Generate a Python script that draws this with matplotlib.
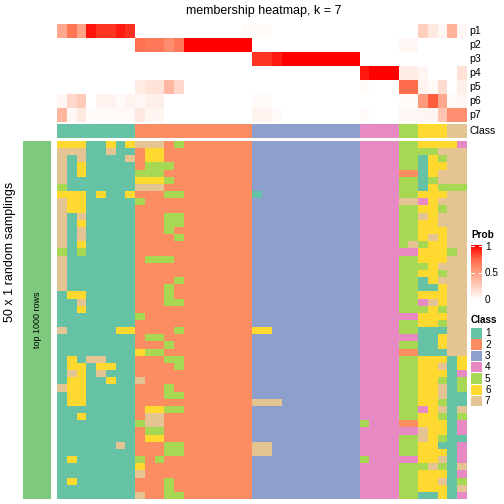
import numpy as np
import matplotlib
matplotlib.use("Agg")
import matplotlib.pyplot as plt
from matplotlib.colors import LinearSegmentedColormap, to_rgb

plt.rcParams['font.family'] = ['Liberation Sans', 'DejaVu Sans']

# class colours (1..7)
class_colors = ['#66C2A5', '#FC8D62', '#8DA0CB', '#E78AC3', '#A6D854', '#FFD92F', '#E5C494']
class_labels = ['1', '2', '3', '4', '5', '6', '7']

# predicted class of each column (42 samples)
column_class = '11111111' + '222222222222' + '33333333333' + '4444' + '55' + '666' + '77'

# membership probabilities p1..p7 per column
p1 = [.45, .68, .48, .95, .87, .87, .93, .88, 0, 0, 0, 0, 0, 0, 0, 0, 0, 0, 0, .02,
      .02, .02, 0, 0, 0, 0, 0, 0, 0, 0, 0, 0, 0, 0, 0, 0, 0, .25, .12, .05, .4, .04]
p2 = [0, 0, 0, 0, 0, 0, 0, 0, .7, .67, .67, .58, .67, 1, 1, 1, 1, 1, 1, 1,
      0, 0, 0, 0, 0, 0, 0, 0, 0, 0, 0, 0, 0, 0, 0, .04, .04, 0, 0, 0, 0, 0]
p3 = [0, 0, 0, 0, 0, 0, 0, 0, 0, 0, 0, 0, 0, 0, 0, 0, 0, 0, 0, 0,
      .87, .87, .93, 1, 1, 1, 1, 1, 1, 1, 1, 0, 0, 0, 0, 0, 0, 0, 0, 0, 0, 0]
p4 = [0, 0, 0, 0, 0, 0, 0, 0, 0, 0, 0, 0, 0, 0, 0, 0, 0, 0, 0, 0,
      0, 0, 0, 0, 0, 0, 0, 0, 0, 0, 0, .94, 1, 1, 1, .1, .1, .05, 0, 0, 0, .15]
p5 = [0, 0, 0, 0, 0, 0, 0, 0, .1, .15, .15, .37, .2, 0, 0, 0, 0, 0, 0, 0,
      0, 0, 0, 0, 0, 0, 0, 0, 0, 0, 0, .02, 0, 0, 0, .72, .72, .06, .03, .18, 0, .08]
p6 = [.05, .2, .27, 0, .06, .06, .03, .06, .04, .08, .08, 0, 0, 0, 0, 0, 0, 0, 0, 0,
      .03, .03, 0, 0, 0, 0, 0, 0, 0, 0, 0, 0, 0, 0, 0, .02, .02, .52, .78, .45, .03, .05]
p7 = [.38, .04, .12, .02, .03, .03, .03, .03, .12, .05, .05, 0, 0, 0, 0, 0, 0, 0, 0, 0,
      .06, .06, .03, 0, 0, 0, 0, 0, 0, 0, 0, .03, 0, 0, 0, .04, .04, .05, .05, .3, .57, .57]
prob_labels = ['p1', 'p2', 'p3', 'p4', 'p5', 'p6', 'p7']

# class assigned in each of the 50 random samplings (rows) for each column
samplings = [
    '66611616' + '777252222222' + '33333333333' + '4444' + '55' + '666' + '64',
    '77711711' + '266222222222' + '33333333333' + '4444' + '55' + '557' + '77',
    '71711117' + '266222222222' + '33333333333' + '4444' + '55' + '165' + '77',
    '71611111' + '255522222222' + '33333333333' + '4444' + '55' + '166' + '77',
    '71611111' + '555222222222' + '33333333333' + '4444' + '22' + '167' + '77',
    '71111111' + '666522222222' + '33333333333' + '4444' + '55' + '157' + '77',
    '51111111' + '777222222222' + '33333333333' + '4444' + '55' + '165' + '55',
    '66616116' + '222552222222' + '13333333333' + '4444' + '55' + '666' + '77',
    '76611111' + '522222222222' + '33333333333' + '4444' + '77' + '467' + '77',
    '76611111' + '222222222222' + '33333333333' + '4444' + '55' + '665' + '77',
    '71711111' + '222552222222' + '33333333333' + '4444' + '55' + '767' + '77',
    '71611111' + '222552222222' + '33333333333' + '4444' + '55' + '667' + '77',
    '71711111' + '222522222222' + '33333333333' + '4444' + '55' + '666' + '77',
    '71711111' + '222252222222' + '33333333333' + '4444' + '55' + '676' + '77',
    '71611111' + '222222222222' + '33333333333' + '4444' + '57' + '566' + '77',
    '51511111' + '222222222222' + '33333333333' + '4444' + '44' + '666' + '57',
    '71111111' + '255522222222' + '33333333333' + '4444' + '55' + '666' + '77',
    '71111111' + '222222222222' + '33333333333' + '4444' + '55' + '567' + '77',
    '71111111' + '222222222222' + '33333333333' + '4444' + '55' + '665' + '77',
    '71111111' + '222252222222' + '33333333333' + '4444' + '55' + '167' + '77',
    '71111111' + '222522222222' + '33333333333' + '4444' + '55' + '116' + '77',
    '16611111' + '222522222222' + '33333333333' + '4444' + '55' + '666' + '77',
    '11711111' + '222552222222' + '33333333333' + '4444' + '55' + '476' + '77',
    '11611111' + '222222222222' + '33333333333' + '4444' + '55' + '565' + '77',
    '11111111' + '522222222222' + '33333333333' + '4444' + '44' + '666' + '77',
    '11111111' + '222222222222' + '33333333333' + '4444' + '55' + '665' + '77',
    '71111166' + '222252222222' + '66333333333' + '4444' + '55' + '111' + '77',
    '11111111' + '255222222222' + '33333333333' + '4444' + '44' + '116' + '77',
    '11111111' + '222522222222' + '33333333333' + '4444' + '55' + '116' + '77',
    '11111111' + '655222222222' + '33333333333' + '4444' + '22' + '111' + '77',
    '16177111' + '222552222222' + '33333333333' + '4444' + '55' + '666' + '16',
    '16616611' + '222252222222' + '33333333333' + '4444' + '55' + '667' + '16',
    '17617111' + '222222222222' + '33333333333' + '4444' + '55' + '666' + '14',
    '16611611' + '722222222222' + '33333333333' + '4444' + '55' + '665' + '15',
    '76611111' + '222522222222' + '33333333333' + '4444' + '55' + '667' + '15',
    '16611111' + '222552222222' + '33333333333' + '4444' + '55' + '667' + '11',
    '16611111' + '222222222222' + '77733333333' + '4444' + '55' + '665' + '11',
    '11111111' + '266552222222' + '33333333333' + '4444' + '55' + '467' + '17',
    '11611111' + '277222222222' + '33333333333' + '4444' + '55' + '665' + '15',
    '11111111' + '577222222222' + '33333333333' + '5444' + '22' + '666' + '14',
    '11111111' + '255222222222' + '33333333333' + '4444' + '44' + '766' + '14',
    '11111111' + '266222222222' + '33333333333' + '4444' + '55' + '765' + '11',
    '11111171' + '222552222222' + '77333333333' + '4444' + '55' + '661' + '14',
    '11111111' + '222552222222' + '77333333333' + '4444' + '55' + '666' + '14',
    '16111111' + '525222222222' + '33333333333' + '5444' + '44' + '667' + '14',
    '11111111' + '622222222222' + '33333333333' + '4444' + '55' + '575' + '17',
    '11111111' + '722222222222' + '33333333333' + '4444' + '55' + '666' + '14',
    '16111111' + '222522222222' + '33333333333' + '4444' + '55' + '667' + '15',
    '11111111' + '222522222222' + '33333333333' + '4444' + '55' + '666' + '17',
    '11111111' + '722552222222' + '33333333333' + '4444' + '55' + '116' + '14',
]

prob_cmap = LinearSegmentedColormap.from_list(
    'prob', [(0, '#FFFFFF'), (0.25, '#FFCFBE'), (0.5, '#FF9E81'), (0.75, '#FF6846'), (1, '#FF0000')])
palette = np.array([to_rgb(c) for c in class_colors])

W = H = 504
fig = plt.figure(figsize=(7, 7), dpi=72)


def add_ax(x0, y0, x1, y1):
    ax = fig.add_axes([x0 / W, 1 - y1 / H, (x1 - x0) / W, (y1 - y0) / H])
    ax.set_axis_off()
    return ax


left, right = 57, 466.5

# membership probabilities
ax_p = add_ax(left, 24, right, 122)
prob_mat = np.array([p1, p2, p3, p4, p5, p6, p7])
ax_p.imshow(prob_mat, cmap=prob_cmap, vmin=0, vmax=1, aspect='auto', interpolation='nearest')
for i, lab in enumerate(prob_labels):
    fig.text((right + 3) / W, 1 - (24 + 14 * i + 7) / H, lab, fontsize=10.5, va='center')

# class annotation
ax_c = add_ax(left, 124, right, 138)
cls_idx = np.array([int(c) - 1 for c in column_class])
ax_c.imshow(palette[cls_idx][None, :, :], aspect='auto', interpolation='nearest')
fig.text((right + 3) / W, 1 - 131 / H, 'Class', fontsize=10.5, va='center')

# samplings body
ax_b = add_ax(left, 141, right, 499)
body = np.array([[int(c) - 1 for c in row] for row in samplings])
ax_b.imshow(palette[body], aspect='auto', interpolation='nearest')

# left split bar
ax_l = add_ax(23, 141, 51, 499)
ax_l.add_patch(plt.Rectangle((0, 0), 1, 1, color='#7FC97F', transform=ax_l.transAxes))
fig.text(38 / W, 1 - 320 / H, 'top 1000 rows', rotation=90, fontsize=9,
         ha='center', va='center')
fig.text(10 / W, 1 - 252 / H, '50 x 1 random samplings', rotation=90, fontsize=12.5,
         ha='center', va='center')

# title
fig.text(264 / W, 1 - 11 / H, 'membership heatmap, k = 7', fontsize=12.5, ha='center', va='center')

# Prob legend
fig.text(471 / W, 1 - 235 / H, 'Prob', fontsize=10, fontweight='bold', va='center')
ax_g = add_ax(471, 245, 482, 300)
ax_g.imshow(np.linspace(1, 0, 100)[:, None], cmap=prob_cmap, vmin=0, vmax=1,
            aspect='auto', extent=[0, 1, 0, 1])
ax_g.set_xlim(0, 1)
ax_g.set_ylim(0, 1)
for v in [0.5, 1.0]:
    yy = v - 0.01 if v == 1.0 else v
    ax_g.plot([0, 0.25], [yy, yy], color='white', lw=1)
    ax_g.plot([0.75, 1], [yy, yy], color='white', lw=1)
for v, lab in [(1, '1'), (0.5, '0.5'), (0, '0')]:
    yv = 300 - 55 * v + (2 if v == 1 else 0)
    fig.text(485 / W, 1 - yv / H, lab, fontsize=10, va='center')

# Class legend
fig.text(471 / W, 1 - 320 / H, 'Class', fontsize=10, fontweight='bold', va='center')
for i, (col, lab) in enumerate(zip(class_colors, class_labels)):
    y0 = 328 + 11.3 * i
    ax_s = add_ax(471, y0, 482, y0 + 10.5)
    ax_s.add_patch(plt.Rectangle((0, 0), 1, 1, color=col, transform=ax_s.transAxes))
    fig.text(485 / W, 1 - (y0 + 5.5) / H, lab, fontsize=10, va='center')

fig.savefig('out.png', dpi=72)
